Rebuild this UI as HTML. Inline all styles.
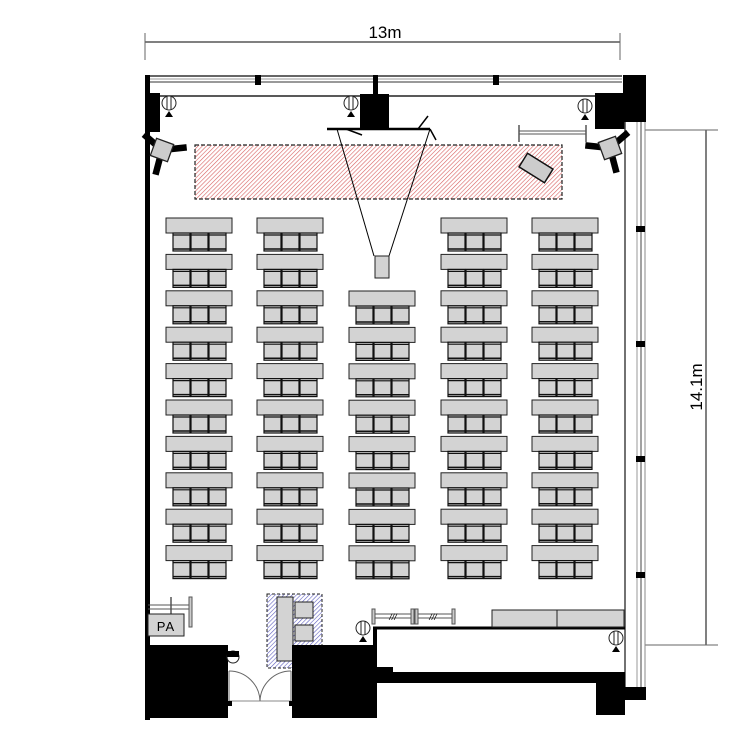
<!DOCTYPE html>
<html><head><meta charset="utf-8"><style>html,body{margin:0;padding:0;background:#fff}svg{display:block}</style></head>
<body>
<svg width="750" height="750" viewBox="0 0 750 750" xmlns="http://www.w3.org/2000/svg">
<defs>
<pattern id="red" width="3" height="3" patternUnits="userSpaceOnUse" patternTransform="rotate(45)">
<rect width="3" height="3" fill="#fff"/><line x1="0" y1="0" x2="0" y2="3" stroke="#d86060" stroke-width="1.2"/></pattern>
<pattern id="blue" width="3" height="3" patternUnits="userSpaceOnUse" patternTransform="rotate(45)">
<rect width="3" height="3" fill="#fff"/><line x1="0" y1="0" x2="0" y2="3" stroke="#6060c0" stroke-width="1.2"/></pattern>
<g id="chair"><rect x="0" y="0" width="17" height="18" fill="#d3d3d3" stroke="#111" stroke-width="1.2"/><line x1="0" y1="2" x2="17" y2="2" stroke="#111" stroke-width="1.2"/><line x1="0" y1="16" x2="17" y2="16" stroke="#111" stroke-width="1.5"/></g>
<g id="row"><rect x="0" y="0" width="66" height="15" fill="#d3d3d3" stroke="#222" stroke-width="1"/>
<use href="#chair" x="7" y="15"/><use href="#chair" x="25" y="15"/><use href="#chair" x="43" y="15"/></g>
<g id="col10"><use href="#row" y="0"/><use href="#row" y="36.4"/><use href="#row" y="72.8"/><use href="#row" y="109.2"/><use href="#row" y="145.6"/><use href="#row" y="182"/><use href="#row" y="218.4"/><use href="#row" y="254.8"/><use href="#row" y="291.2"/><use href="#row" y="327.6"/></g>
<g id="col8"><use href="#row" y="0"/><use href="#row" y="36.4"/><use href="#row" y="72.8"/><use href="#row" y="109.2"/><use href="#row" y="145.6"/><use href="#row" y="182"/><use href="#row" y="218.4"/><use href="#row" y="254.8"/></g>
<g id="light"><circle cx="0" cy="0" r="7" fill="#fff" stroke="#222" stroke-width="1"/><line x1="-2" y1="-7" x2="-2" y2="7" stroke="#222"/><line x1="2" y1="-7" x2="2" y2="7" stroke="#222"/><polygon points="-4,14 4,14 0,8" fill="#000"/></g>
<g id="spk"><line x1="0" y1="0" x2="-14" y2="-12" stroke="#000" stroke-width="5"/><line x1="0" y1="0" x2="19" y2="-2" stroke="#000" stroke-width="5"/><line x1="0" y1="0" x2="-5" y2="19" stroke="#000" stroke-width="5"/><rect x="-7" y="-7" width="14" height="14" fill="#ccc" stroke="#222" transform="rotate(20)"/></g>
</defs>

<line x1="145" y1="42" x2="620" y2="42" stroke="#000" stroke-width="1"/>
<line x1="145" y1="33" x2="145" y2="60" stroke="#666"/>
<line x1="620" y1="33" x2="620" y2="60" stroke="#666"/>
<text x="385" y="38" font-family="Liberation Sans, sans-serif" font-size="17" text-anchor="middle">13m</text>
<line x1="706" y1="130" x2="706" y2="645" stroke="#000"/>
<line x1="645" y1="130" x2="718" y2="130" stroke="#666"/>
<line x1="645" y1="645" x2="718" y2="645" stroke="#666"/>
<text transform="translate(702,387) rotate(-90)" font-family="Liberation Sans, sans-serif" font-size="17" text-anchor="middle">14.1m</text>

<line x1="145" y1="76" x2="622" y2="76" stroke="#333" stroke-width="1.5"/>
<line x1="145" y1="79" x2="622" y2="79" stroke="#999" stroke-width="1"/>
<line x1="145" y1="82" x2="622" y2="82" stroke="#333" stroke-width="1"/>
<line x1="145" y1="96" x2="622" y2="96" stroke="#222" stroke-width="1.5"/>
<rect x="145" y="75" width="5" height="645" fill="#000"/>
<rect x="145" y="93" width="15" height="39" fill="#000"/>
<rect x="255" y="75" width="6" height="10" fill="#000"/>
<rect x="493" y="75" width="6" height="10" fill="#000"/>
<rect x="373" y="75" width="5" height="20" fill="#000"/>
<rect x="360" y="94" width="29" height="36" fill="#000"/>
<rect x="623" y="75" width="23" height="47" fill="#000"/>
<rect x="595" y="93" width="30" height="36" fill="#000"/>

<line x1="625" y1="122" x2="625" y2="700" stroke="#444" stroke-width="1.5"/>
<line x1="637" y1="122" x2="637" y2="690" stroke="#999" stroke-width="1"/>
<line x1="641" y1="122" x2="641" y2="690" stroke="#444" stroke-width="1"/>
<line x1="645" y1="122" x2="645" y2="690" stroke="#888" stroke-width="1"/>
<rect x="636" y="226" width="9" height="6" fill="#000"/>
<rect x="636" y="341" width="9" height="6" fill="#000"/>
<rect x="636" y="456" width="9" height="6" fill="#000"/>
<rect x="636" y="572" width="9" height="6" fill="#000"/>

<rect x="195" y="145" width="367" height="54" fill="url(#red)" stroke="#222" stroke-width="1.2" stroke-dasharray="4,2"/>
<rect x="-15" y="-8" width="30" height="16" transform="translate(536,168) rotate(32)" fill="#ccc" stroke="#111" stroke-width="1.5"/>
<line x1="519" y1="131" x2="586" y2="131" stroke="#555" stroke-width="1"/>
<line x1="519" y1="134" x2="586" y2="134" stroke="#555" stroke-width="1"/>
<line x1="519" y1="125" x2="519" y2="142" stroke="#555" stroke-width="1.5"/>
<line x1="586" y1="125" x2="586" y2="142" stroke="#555" stroke-width="1.5"/>

<line x1="327" y1="129" x2="430" y2="129" stroke="#000" stroke-width="2.5"/>
<line x1="346" y1="129" x2="362" y2="135" stroke="#000" stroke-width="1.5"/>
<line x1="418" y1="129" x2="428" y2="116" stroke="#000" stroke-width="1.5"/>
<line x1="430" y1="129" x2="436" y2="140" stroke="#000" stroke-width="1.5"/>
<line x1="337" y1="129" x2="374" y2="256" stroke="#000"/>
<line x1="430" y1="129" x2="389" y2="256" stroke="#000"/>
<rect x="375" y="256" width="14" height="22" fill="#d3d3d3" stroke="#222"/>

<use href="#light" x="169" y="103"/>
<use href="#light" x="351" y="103"/>
<use href="#light" x="585" y="106"/>
<use href="#light" x="363" y="628"/>
<use href="#light" x="616" y="638"/>
<g transform="translate(162,150) scale(1.3)"><use href="#spk"/></g>
<g transform="translate(610,148) scale(-1.3,1.3)"><use href="#spk"/></g>

<use href="#col10" x="166" y="218"/>
<use href="#col10" x="257" y="218"/>
<use href="#col8" x="349" y="291"/>
<use href="#col10" x="441" y="218"/>
<use href="#col10" x="532" y="218"/>

<line x1="148" y1="605" x2="190" y2="605" stroke="#555"/>
<line x1="148" y1="609" x2="190" y2="609" stroke="#555"/>
<line x1="171" y1="597" x2="171" y2="614" stroke="#555" stroke-width="1.5"/>
<rect x="189" y="597" width="3" height="30" fill="#ccc" stroke="#555"/>
<rect x="148" y="614" width="36" height="22" fill="#d3d3d3" stroke="#222"/>
<text x="166" y="631" font-family="Liberation Sans, sans-serif" font-size="13" text-anchor="middle" letter-spacing="1">PA</text>

<rect x="267" y="594" width="55" height="74" fill="url(#blue)" stroke="#222" stroke-dasharray="3,2"/>
<rect x="277" y="597" width="16" height="64" fill="#d3d3d3" stroke="#222"/>
<rect x="295" y="602" width="18" height="16" fill="#d3d3d3" stroke="#222"/>
<rect x="295" y="625" width="18" height="16" fill="#d3d3d3" stroke="#222"/>

<rect x="145" y="645" width="83" height="73" fill="#000"/>
<rect x="292" y="645" width="85" height="73" fill="#000"/>
<rect x="377" y="667" width="16" height="6" fill="#000"/>
<rect x="377" y="672" width="248" height="11" fill="#000"/>
<rect x="596" y="683" width="29" height="32" fill="#000"/>
<rect x="625" y="687" width="21" height="13" fill="#000"/>
<line x1="373" y1="628" x2="625" y2="628" stroke="#000" stroke-width="3"/>
<rect x="373" y="628" width="4" height="20" fill="#000"/>
<circle cx="233" cy="657" r="6" fill="#fff" stroke="#222"/>
<rect x="227" y="651" width="12" height="6" fill="#000"/>
<line x1="229" y1="671" x2="229" y2="701" stroke="#666"/>
<line x1="291" y1="671" x2="291" y2="701" stroke="#666"/>
<line x1="229" y1="701" x2="291" y2="701" stroke="#888"/>
<path d="M229,671 A31,31 0 0 1 260,701" fill="none" stroke="#666"/>
<path d="M291,671 A31,31 0 0 0 260,701" fill="none" stroke="#666"/>
<rect x="228" y="701" width="4" height="5" fill="#000"/>
<rect x="289" y="701" width="4" height="5" fill="#000"/>

<line x1="373" y1="614" x2="455" y2="614" stroke="#555"/>
<line x1="373" y1="618" x2="455" y2="618" stroke="#555"/>
<rect x="372" y="609" width="3" height="15" fill="#ccc" stroke="#555"/>
<rect x="411" y="609" width="3" height="15" fill="#ccc" stroke="#555"/>
<rect x="415" y="609" width="3" height="15" fill="#ccc" stroke="#555"/>
<rect x="452" y="609" width="3" height="15" fill="#ccc" stroke="#555"/>
<text x="393" y="620" font-family="Liberation Sans, sans-serif" font-size="9" font-style="italic" text-anchor="middle">///</text>
<text x="433" y="620" font-family="Liberation Sans, sans-serif" font-size="9" font-style="italic" text-anchor="middle">///</text>
<rect x="492" y="610" width="65" height="17" fill="#d3d3d3" stroke="#222"/>
<rect x="557" y="610" width="67" height="17" fill="#d3d3d3" stroke="#222"/>
</svg>
</body></html>
